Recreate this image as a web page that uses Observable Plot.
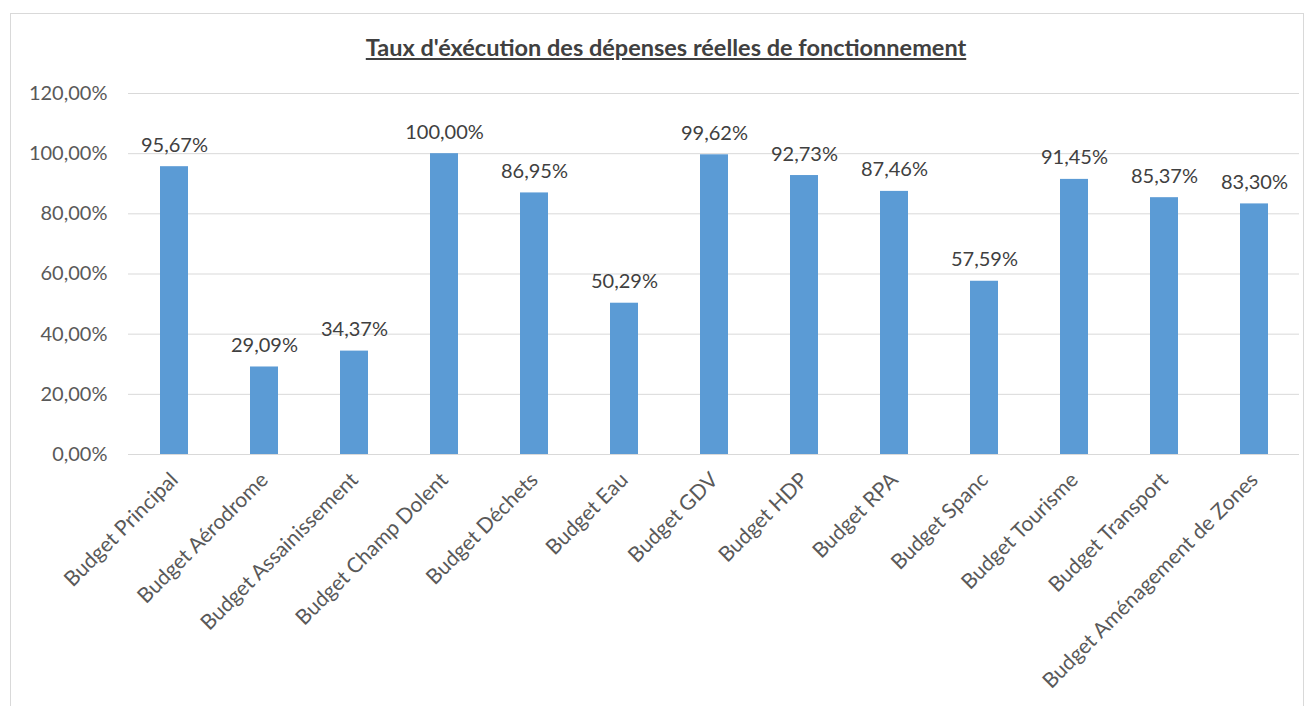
<!DOCTYPE html>
<html><head><meta charset="utf-8">
<script src="https://cdn.jsdelivr.net/npm/d3@7"></script>
<script src="https://cdn.jsdelivr.net/npm/@observablehq/plot@0.6"></script>
<style>
body{margin:0;background:#fff;font-family:Lato,sans-serif;}
#wrap{position:relative;width:1312px;height:706px;overflow:hidden;}
#frame{position:absolute;left:10px;top:13px;width:1294px;height:720px;border:1px solid #d9d9d9;box-sizing:border-box;}
#title{position:absolute;left:0;width:1332px;top:33px;text-align:center;font:bold 23.5px Lato,sans-serif;color:#404040;text-decoration:underline;}
#chart{position:absolute;left:0;top:0;}
</style></head>
<body><div id="wrap"><div id="frame"></div><div id="title">Taux d'éxécution des dépenses réelles de fonctionnement</div><div id="chart"></div></div>
<script>
const categories = ["Budget Principal","Budget Aérodrome","Budget Assainissement","Budget Champ Dolent","Budget Déchets","Budget Eau","Budget GDV","Budget HDP","Budget RPA","Budget Spanc","Budget Tourisme","Budget Transport","Budget Aménagement de Zones"];
const values = [95.67,29.09,34.37,100.00,86.95,50.29,99.62,92.73,87.46,57.59,91.45,85.37,83.30];
const yTicks = [0,20,40,60,80,100,120];

const data = categories.map((c,i)=>({cat:c,val:values[i]}));
const fmt = v => v.toFixed(2).replace(".", ",") + "%";

const chart = Plot.plot({
  width:1312, height:706,
  marginTop:93, marginBottom:252, marginLeft:128, marginRight:13,
  style:{fontFamily:"Lato, sans-serif", fontSize:"20px", color:"#595959", background:"transparent"},
  x:{domain:categories, paddingInner:0.69, paddingOuter:0.345, align:0.5, label:null},
  y:{domain:[0,120], label:null},
  marks:[
    Plot.ruleY(yTicks,{stroke:"#d9d9d9", strokeWidth:1}),
    Plot.barY(data,{x:"cat", y:"val", fill:"#5B9BD5"}),
    Plot.text(data,{x:"cat", y:"val", text:d=>fmt(d.val), lineAnchor:"bottom", dy:-15, fill:"#404040", fontSize:20}),
    Plot.axisY({ticks:yTicks, tickFormat:fmt, tickSize:0, tickPadding:21, fontSize:20, fill:"#595959", label:null}),
    Plot.axisX({tickRotate:-45, tickSize:0, tickPadding:22, fontSize:21, fill:"#595959", label:null})
  ]
});
document.getElementById("chart").appendChild(chart);
</script></body></html>
